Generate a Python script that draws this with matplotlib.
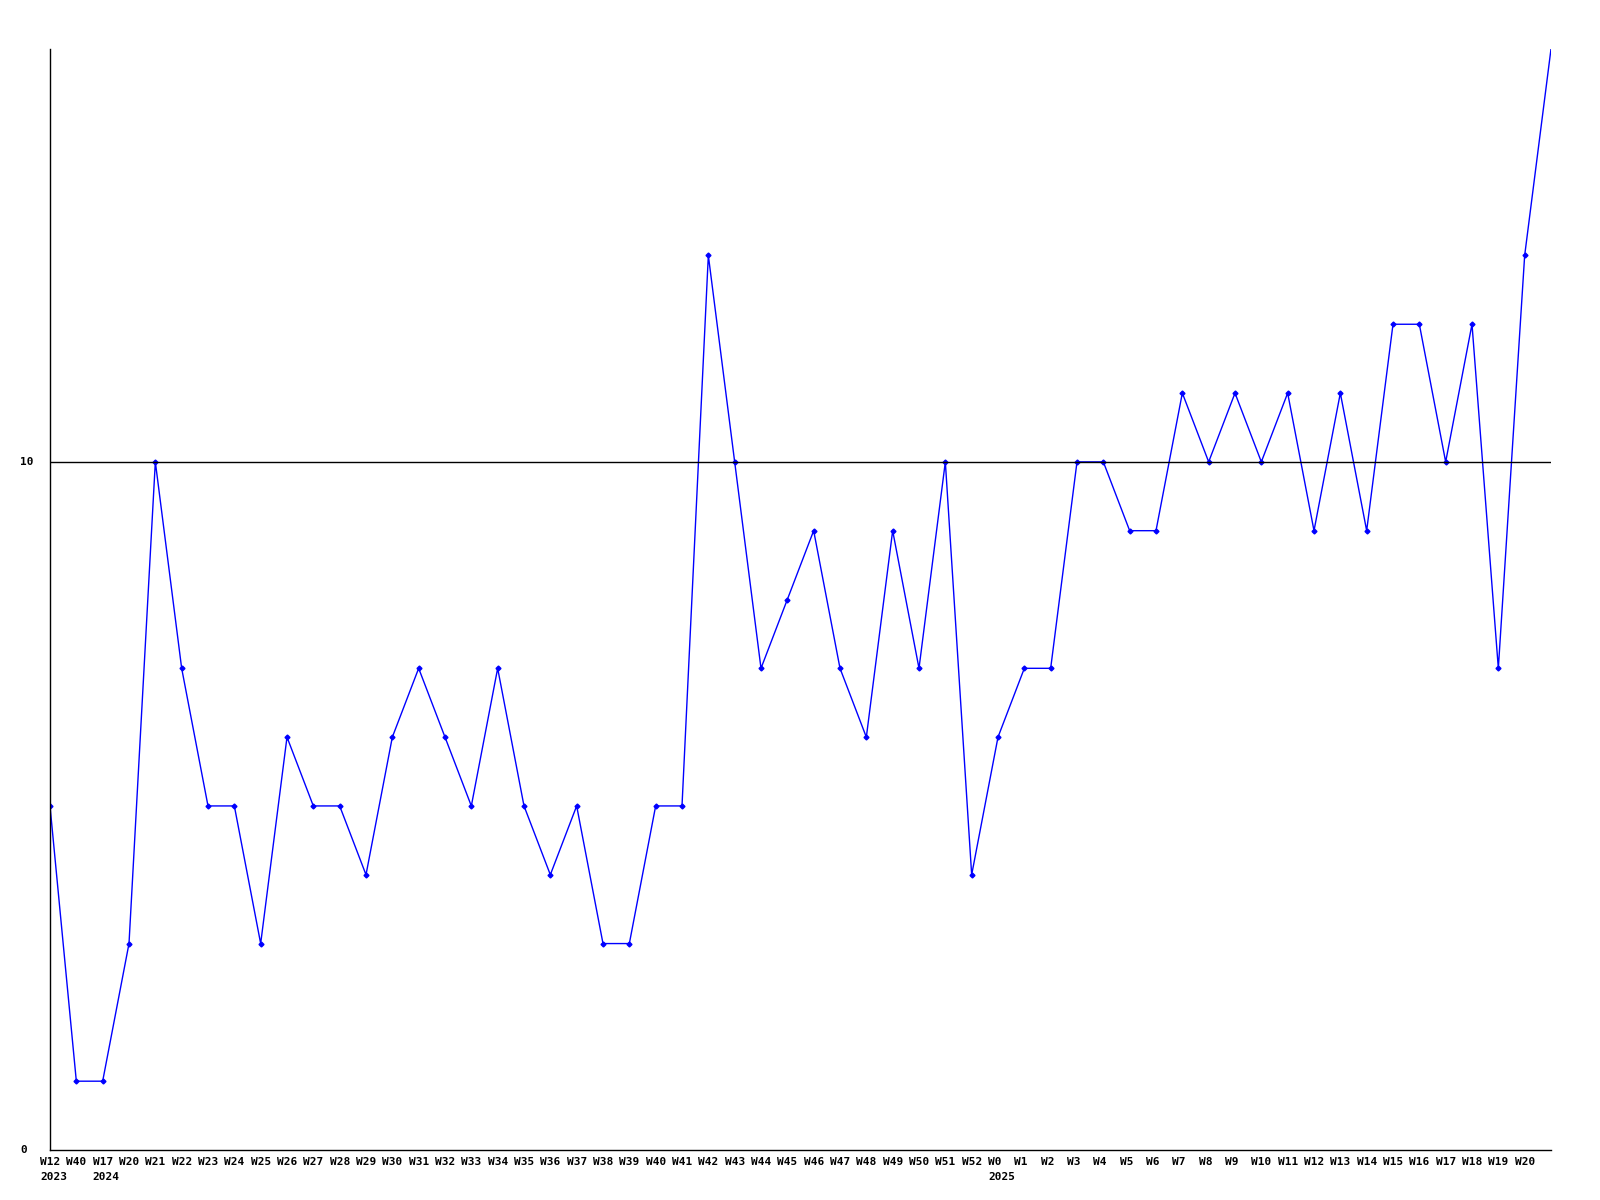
import matplotlib
matplotlib.use("Agg")
import matplotlib.pyplot as plt
import matplotlib.transforms as mtransforms

# week labels and year labels under the x axis
weeks = ["W12", "W40", "W17", "W20"] + ["W%d" % w for w in range(21, 53)] + ["W%d" % w for w in range(0, 21)] + [""]
years = {0: "2023", 2: "2024", 36: "2025"}

values = [5, 1, 1, 3, 10, 7, 5, 5, 3, 6, 5, 5, 4, 6, 7, 6, 5, 7, 5, 4, 5, 3, 3, 5, 5,
          13, 10, 7, 8, 9, 7, 6, 9, 7, 10, 4, 6, 7, 7, 10, 10, 9, 9, 11, 10, 11, 10, 11,
          9, 11, 9, 12, 12, 10, 12, 7, 13, 16]

yticks = [0, 10]

fig = plt.figure(figsize=(16, 12), dpi=100)
ax = fig.add_axes([50/1600, 50/1200, 1501/1600, 1101/1200])

x = list(range(len(values)))
# last point is the open week, no marker on it
ax.plot(x, values, color="#0000ff", linewidth=1, marker="D", markersize=2.5,
        markevery=list(range(len(values) - 1)), zorder=2)
ax.axhline(10, color="black", linewidth=1, zorder=3)

ax.set_xlim(0, len(values) - 1)
ax.set_ylim(0, 16)
ax.spines["top"].set_visible(False)
ax.spines["right"].set_visible(False)
ax.spines["left"].set_linewidth(1)
ax.spines["bottom"].set_linewidth(1)

font = dict(family="DejaVu Sans Mono", weight="bold", size=8)

ax.set_xticks([])
ax.set_yticks([])
ylab_tr = mtransforms.blended_transform_factory(fig.transFigure, ax.transData)
for v in yticks:
    ax.text(20/1600, v, str(v), transform=ylab_tr, ha="left", va="center", **font)

off = mtransforms.ScaledTranslation(-10/100, 0, fig.dpi_scale_trans)
xlab_tr = mtransforms.blended_transform_factory(ax.transData, fig.transFigure) + off
for i, w in enumerate(weeks):
    ax.text(i, 1 - 1162/1200, w, transform=xlab_tr, ha="left", va="center", **font)
    if i in years:
        ax.text(i, 1 - 1177/1200, years[i], transform=xlab_tr, ha="left", va="center", **font)

fig.savefig("out.png", dpi=100)
